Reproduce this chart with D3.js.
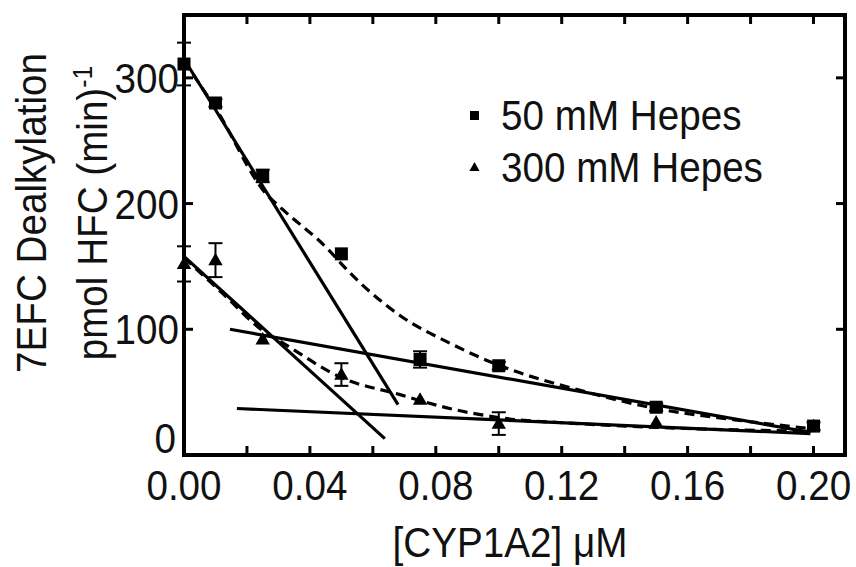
<!DOCTYPE html>
<html><head><meta charset="utf-8">
<script src="https://cdn.jsdelivr.net/npm/d3@7"></script>
<style>body{margin:0;background:#fff}svg{display:block}text{font-family:"Liberation Sans",Arial,sans-serif;fill:#111}</style>
</head><body>
<script>
// ---- data ----
const concX = [0, 0.01, 0.025, 0.05, 0.075, 0.10, 0.15, 0.20];
const hepes50 = [311, 280, 222, 160, 76, 71, 38, 23];
const hepes50Err = [17, 3, 5, 0, 6.5, 3, 3, 3];
const hepes300 = [152, 155, 92, 64, 44, 25, 26, 23];
const hepes300Err = [14, 13.5, 0, 9, 0, 9, 0, 0];
// straight fit lines [x0,y0,x1,y1]
const fitLines = [
  [0, 315, 0.068, 40],
  [0.0146, 100, 0.199, 18],
  [0, 158, 0.0638, 13],
  [0.0168, 37, 0.199, 17]
];
// dashed curves, points
const dash50X = [0, 0.01, 0.026, 0.0315, 0.0464, 0.05, 0.0686, 0.0844, 0.0994, 0.125, 0.15, 0.175, 0.199];
const dash50Y = [313, 276, 208, 195, 162, 152, 111, 89, 72, 52, 37, 28, 21];
const dash300X = [0, 0.0125, 0.025, 0.0315, 0.0505, 0.0686, 0.074, 0.0844, 0.0994, 0.125, 0.15, 0.175, 0.199];
const dash300Y = [157, 128, 99, 89, 61, 48, 44, 37, 30, 25, 22, 20, 19];
const xMajor = [0, 0.04, 0.08, 0.12, 0.16, 0.20];
const xMinor = [0.02, 0.04, 0.06, 0.08, 0.10, 0.12, 0.14, 0.16, 0.18, 0.20];
const yMajor = [0, 100, 200, 300];
const legendLabels = ["50 mM Hepes", "300 mM Hepes"];

const W = 856, H = 567;
const svg = d3.select("body").append("svg").attr("width", W).attr("height", H);
const x = d3.scaleLinear().domain([0, 0.21]).range([184, 845]);
const y = d3.scaleLinear().domain([0, 350]).range([455, 15]);
const FS = 42, SX = 0.92;

// frame
svg.append("rect").attr("x", x(0)).attr("y", y(350)).attr("width", x(0.21) - x(0)).attr("height", y(0) - y(350))
  .attr("fill", "none").attr("stroke", "#000").attr("stroke-width", 4);

// ticks
const tl = 9;
const tg = svg.append("g").attr("stroke", "#000").attr("stroke-width", 3);
xMinor.forEach(v => {
  tg.append("line").attr("x1", x(v)).attr("x2", x(v)).attr("y1", y(0)).attr("y2", y(0) - tl);
  tg.append("line").attr("x1", x(v)).attr("x2", x(v)).attr("y1", y(350)).attr("y2", y(350) + tl);
});
yMajor.filter(v => v > 0).forEach(v => {
  tg.append("line").attr("x1", x(0)).attr("x2", x(0) + tl).attr("y1", y(v)).attr("y2", y(v));
  tg.append("line").attr("x1", x(0.21)).attr("x2", x(0.21) - tl).attr("y1", y(v)).attr("y2", y(v));
});

function txt(g, s, px, py, anchor) {
  return g.append("text").attr("transform", `translate(${px},${py}) scale(${SX},1)`)
    .attr("text-anchor", anchor).attr("font-size", FS).text(s);
}
xMajor.forEach(v => txt(svg, d3.format(".2f")(v), x(v), 500, "middle"));
yMajor.forEach(v => txt(svg, String(v), v === 0 ? 176 : 179, v === 0 ? y(v) - 2 : y(v) + 15, "end"));

// axis titles
txt(svg, "[CYP1A2] \u03bcM", 510, 557, "middle");
svg.append("text").attr("transform", `translate(46,213) rotate(-90) scale(${SX},1)`)
  .attr("text-anchor", "middle").attr("font-size", FS).text("7EFC Dealkylation");
const yt2 = svg.append("text").attr("transform", `translate(107,213) rotate(-90) scale(${SX},1)`)
  .attr("text-anchor", "middle").attr("font-size", FS);
yt2.append("tspan").text("pmol HFC (min)");
yt2.append("tspan").attr("dy", -15).attr("font-size", 27).text("-1");

// fit lines
svg.append("g").selectAll("line").data(fitLines).join("line")
  .attr("x1", d => x(d[0])).attr("y1", d => y(d[1])).attr("x2", d => x(d[2])).attr("y2", d => y(d[3]))
  .attr("stroke", "#000").attr("stroke-width", 3.2);
const line = d3.line().x(d => x(d[0])).y(d => y(d[1])).curve(d3.curveMonotoneX);
[[dash50X, dash50Y], [dash300X, dash300Y]].forEach(([xs, ys]) => {
  svg.append("path").attr("d", line(xs.map((v, i) => [v, ys[i]])))
    .attr("fill", "none").attr("stroke", "#000").attr("stroke-width", 3.2).attr("stroke-dasharray", "10,6");
});

// error bars
function errBars(vals, errs) {
  const g = svg.append("g").attr("stroke", "#000").attr("stroke-width", 2);
  concX.forEach((cx, i) => {
    if (!errs[i]) return;
    const px = x(cx), t = y(vals[i] + errs[i]), b = y(vals[i] - errs[i]);
    g.append("line").attr("x1", px).attr("x2", px).attr("y1", t).attr("y2", b);
    g.append("line").attr("x1", px - 7).attr("x2", px + 7).attr("y1", t).attr("y2", t);
    g.append("line").attr("x1", px - 7).attr("x2", px + 7).attr("y1", b).attr("y2", b);
  });
}
errBars(hepes300, hepes300Err);
errBars(hepes50, hepes50Err);

const tri = d3.symbol().type(d3.symbolTriangle).size(90);
svg.append("g").selectAll("path").data(concX).join("path")
  .attr("d", tri).attr("transform", (d, i) => `translate(${x(d)},${y(hepes300[i]) + 1})`).attr("fill", "#000");
svg.append("g").selectAll("rect").data(concX).join("rect")
  .attr("x", d => x(d) - 6.5).attr("y", (d, i) => y(hepes50[i]) - 6.5).attr("width", 13).attr("height", 13).attr("fill", "#000");

// legend
const lg = svg.append("g");
lg.append("rect").attr("x", 470).attr("y", 111).attr("width", 9).attr("height", 9).attr("fill", "#000");
lg.append("path").attr("d", d3.symbol().type(d3.symbolTriangle).size(45)).attr("transform", "translate(474.5,168)").attr("fill", "#000");
txt(lg, legendLabels[0], 501, 130, "start");
txt(lg, legendLabels[1], 501, 182, "start");
</script>
</body></html>
